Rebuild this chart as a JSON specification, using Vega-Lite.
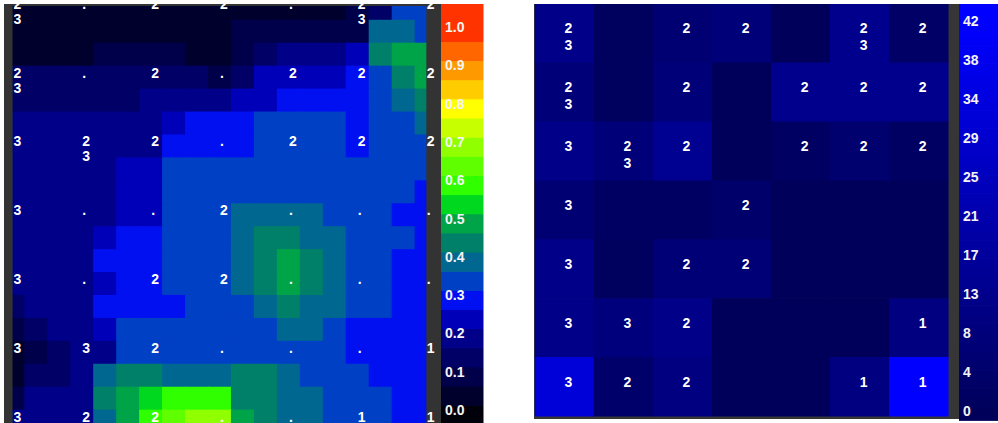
{
  "$schema": "https://vega.github.io/schema/vega-lite/v6.json",
  "background": "white",
  "padding": {"left": 4, "top": 4, "right": 0, "bottom": 0},
  "spacing": 0,
  "config": {"view": {"stroke": null}, "text": {"font": "Liberation Sans"}},
  "resolve": {"scale": {"color": "independent"}},
  "datasets": {
    "one": [{}],
    "cells": [
      {"c":0,"r":0,"t":"2\n3","n":12},{"c":1,"r":0,"t":".","n":1},{"c":2,"r":0,"t":"2","n":6},{"c":3,"r":0,"t":"2","n":8},{"c":4,"r":0,"t":".","n":0},{"c":5,"r":0,"t":"2\n3","n":13},{"c":6,"r":0,"t":"2","n":3},
      {"c":0,"r":1,"t":"2\n3","n":8},{"c":1,"r":1,"t":".","n":1},{"c":2,"r":1,"t":"2","n":8},{"c":3,"r":1,"t":".","n":0},{"c":4,"r":1,"t":"2","n":13},{"c":5,"r":1,"t":"2","n":13},{"c":6,"r":1,"t":"2","n":13},
      {"c":0,"r":2,"t":"3","n":12},{"c":1,"r":2,"t":"2\n3","n":8},{"c":2,"r":2,"t":"2","n":14},{"c":3,"r":2,"t":".","n":0},{"c":4,"r":2,"t":"2","n":2},{"c":5,"r":2,"t":"2","n":5},{"c":6,"r":2,"t":"2","n":2},
      {"c":0,"r":3,"t":"3","n":6},{"c":1,"r":3,"t":".","n":2},{"c":2,"r":3,"t":".","n":2},{"c":3,"r":3,"t":"2","n":4},{"c":4,"r":3,"t":".","n":0},{"c":5,"r":3,"t":".","n":0},{"c":6,"r":3,"t":".","n":0},
      {"c":0,"r":4,"t":"3","n":12},{"c":1,"r":4,"t":".","n":1},{"c":2,"r":4,"t":"2","n":7},{"c":3,"r":4,"t":"2","n":7},{"c":4,"r":4,"t":".","n":0},{"c":5,"r":4,"t":".","n":0},{"c":6,"r":4,"t":".","n":0},
      {"c":0,"r":5,"t":"3","n":12},{"c":1,"r":5,"t":"3","n":9},{"c":2,"r":5,"t":"2","n":12},{"c":3,"r":5,"t":".","n":0},{"c":4,"r":5,"t":".","n":0},{"c":5,"r":5,"t":".","n":0},{"c":6,"r":5,"t":"1","n":10},
      {"c":0,"r":6,"t":"3","n":32},{"c":1,"r":6,"t":"2","n":4},{"c":2,"r":6,"t":"2","n":10},{"c":3,"r":6,"t":".","n":0},{"c":4,"r":6,"t":".","n":0},{"c":5,"r":6,"t":"1","n":10},{"c":6,"r":6,"t":"1","n":42}
    ],
    "surface": [
      {"x":0,"y":0,"v":0.05},{"x":0.333,"y":0,"v":0.05},{"x":0.667,"y":0,"v":0.05},{"x":1,"y":0,"v":0.05},{"x":1.333,"y":0,"v":0.05},{"x":1.667,"y":0,"v":0.05},{"x":2,"y":0,"v":0.05},{"x":2.333,"y":0,"v":0.05},{"x":2.667,"y":0,"v":0.05},{"x":3,"y":0,"v":0.05},{"x":3.333,"y":0,"v":0.05},{"x":3.667,"y":0,"v":0.05},{"x":4,"y":0,"v":0.05},{"x":4.333,"y":0,"v":0.05},{"x":4.667,"y":0,"v":0.05},{"x":5,"y":0,"v":0.1},{"x":5.333,"y":0,"v":0.15},{"x":5.667,"y":0,"v":0.35},{"x":6,"y":0,"v":0.35},
      {"x":0,"y":0.333,"v":0.05},{"x":0.333,"y":0.333,"v":0.05},{"x":0.667,"y":0.333,"v":0.05},{"x":1,"y":0.333,"v":0.05},{"x":1.333,"y":0.333,"v":0.05},{"x":1.667,"y":0.333,"v":0.05},{"x":2,"y":0.333,"v":0.05},{"x":2.333,"y":0.333,"v":0.05},{"x":2.667,"y":0.333,"v":0.05},{"x":3,"y":0.333,"v":0.05},{"x":3.333,"y":0.333,"v":0.1},{"x":3.667,"y":0.333,"v":0.1},{"x":4,"y":0.333,"v":0.1},{"x":4.333,"y":0.333,"v":0.1},{"x":4.667,"y":0.333,"v":0.1},{"x":5,"y":0.333,"v":0.1},{"x":5.333,"y":0.333,"v":0.4},{"x":5.667,"y":0.333,"v":0.4},{"x":6,"y":0.333,"v":0.35},
      {"x":0,"y":0.667,"v":0.05},{"x":0.333,"y":0.667,"v":0.05},{"x":0.667,"y":0.667,"v":0.05},{"x":1,"y":0.667,"v":0.05},{"x":1.333,"y":0.667,"v":0.1},{"x":1.667,"y":0.667,"v":0.1},{"x":2,"y":0.667,"v":0.1},{"x":2.333,"y":0.667,"v":0.1},{"x":2.667,"y":0.667,"v":0.05},{"x":3,"y":0.667,"v":0.05},{"x":3.333,"y":0.667,"v":0.1},{"x":3.667,"y":0.667,"v":0.15},{"x":4,"y":0.667,"v":0.2},{"x":4.333,"y":0.667,"v":0.2},{"x":4.667,"y":0.667,"v":0.2},{"x":5,"y":0.667,"v":0.25},{"x":5.333,"y":0.667,"v":0.45},{"x":5.667,"y":0.667,"v":0.5},{"x":6,"y":0.667,"v":0.5},
      {"x":0,"y":1,"v":0.15},{"x":0.333,"y":1,"v":0.15},{"x":0.667,"y":1,"v":0.15},{"x":1,"y":1,"v":0.15},{"x":1.333,"y":1,"v":0.15},{"x":1.667,"y":1,"v":0.15},{"x":2,"y":1,"v":0.15},{"x":2.333,"y":1,"v":0.15},{"x":2.667,"y":1,"v":0.15},{"x":3,"y":1,"v":0.1},{"x":3.333,"y":1,"v":0.15},{"x":3.667,"y":1,"v":0.25},{"x":4,"y":1,"v":0.25},{"x":4.333,"y":1,"v":0.25},{"x":4.667,"y":1,"v":0.25},{"x":5,"y":1,"v":0.3},{"x":5.333,"y":1,"v":0.35},{"x":5.667,"y":1,"v":0.45},{"x":6,"y":1,"v":0.5},
      {"x":0,"y":1.333,"v":0.15},{"x":0.333,"y":1.333,"v":0.15},{"x":0.667,"y":1.333,"v":0.15},{"x":1,"y":1.333,"v":0.15},{"x":1.333,"y":1.333,"v":0.15},{"x":1.667,"y":1.333,"v":0.15},{"x":2,"y":1.333,"v":0.2},{"x":2.333,"y":1.333,"v":0.2},{"x":2.667,"y":1.333,"v":0.2},{"x":3,"y":1.333,"v":0.2},{"x":3.333,"y":1.333,"v":0.25},{"x":3.667,"y":1.333,"v":0.25},{"x":4,"y":1.333,"v":0.3},{"x":4.333,"y":1.333,"v":0.3},{"x":4.667,"y":1.333,"v":0.3},{"x":5,"y":1.333,"v":0.3},{"x":5.333,"y":1.333,"v":0.35},{"x":5.667,"y":1.333,"v":0.4},{"x":6,"y":1.333,"v":0.45},
      {"x":0,"y":1.667,"v":0.2},{"x":0.333,"y":1.667,"v":0.2},{"x":0.667,"y":1.667,"v":0.2},{"x":1,"y":1.667,"v":0.2},{"x":1.333,"y":1.667,"v":0.2},{"x":1.667,"y":1.667,"v":0.2},{"x":2,"y":1.667,"v":0.2},{"x":2.333,"y":1.667,"v":0.25},{"x":2.667,"y":1.667,"v":0.3},{"x":3,"y":1.667,"v":0.3},{"x":3.333,"y":1.667,"v":0.3},{"x":3.667,"y":1.667,"v":0.35},{"x":4,"y":1.667,"v":0.35},{"x":4.333,"y":1.667,"v":0.35},{"x":4.667,"y":1.667,"v":0.35},{"x":5,"y":1.667,"v":0.3},{"x":5.333,"y":1.667,"v":0.35},{"x":5.667,"y":1.667,"v":0.35},{"x":6,"y":1.667,"v":0.4},
      {"x":0,"y":2,"v":0.2},{"x":0.333,"y":2,"v":0.2},{"x":0.667,"y":2,"v":0.2},{"x":1,"y":2,"v":0.2},{"x":1.333,"y":2,"v":0.2},{"x":1.667,"y":2,"v":0.2},{"x":2,"y":2,"v":0.2},{"x":2.333,"y":2,"v":0.3},{"x":2.667,"y":2,"v":0.3},{"x":3,"y":2,"v":0.3},{"x":3.333,"y":2,"v":0.3},{"x":3.667,"y":2,"v":0.35},{"x":4,"y":2,"v":0.35},{"x":4.333,"y":2,"v":0.35},{"x":4.667,"y":2,"v":0.35},{"x":5,"y":2,"v":0.3},{"x":5.333,"y":2,"v":0.35},{"x":5.667,"y":2,"v":0.35},{"x":6,"y":2,"v":0.35},
      {"x":0,"y":2.333,"v":0.2},{"x":0.333,"y":2.333,"v":0.2},{"x":0.667,"y":2.333,"v":0.2},{"x":1,"y":2.333,"v":0.2},{"x":1.333,"y":2.333,"v":0.2},{"x":1.667,"y":2.333,"v":0.25},{"x":2,"y":2.333,"v":0.25},{"x":2.333,"y":2.333,"v":0.35},{"x":2.667,"y":2.333,"v":0.35},{"x":3,"y":2.333,"v":0.35},{"x":3.333,"y":2.333,"v":0.35},{"x":3.667,"y":2.333,"v":0.35},{"x":4,"y":2.333,"v":0.35},{"x":4.333,"y":2.333,"v":0.35},{"x":4.667,"y":2.333,"v":0.35},{"x":5,"y":2.333,"v":0.35},{"x":5.333,"y":2.333,"v":0.35},{"x":5.667,"y":2.333,"v":0.35},{"x":6,"y":2.333,"v":0.35},
      {"x":0,"y":2.667,"v":0.2},{"x":0.333,"y":2.667,"v":0.2},{"x":0.667,"y":2.667,"v":0.2},{"x":1,"y":2.667,"v":0.2},{"x":1.333,"y":2.667,"v":0.2},{"x":1.667,"y":2.667,"v":0.25},{"x":2,"y":2.667,"v":0.25},{"x":2.333,"y":2.667,"v":0.35},{"x":2.667,"y":2.667,"v":0.35},{"x":3,"y":2.667,"v":0.35},{"x":3.333,"y":2.667,"v":0.35},{"x":3.667,"y":2.667,"v":0.35},{"x":4,"y":2.667,"v":0.35},{"x":4.333,"y":2.667,"v":0.35},{"x":4.667,"y":2.667,"v":0.35},{"x":5,"y":2.667,"v":0.35},{"x":5.333,"y":2.667,"v":0.35},{"x":5.667,"y":2.667,"v":0.35},{"x":6,"y":2.667,"v":0.3},
      {"x":0,"y":3,"v":0.2},{"x":0.333,"y":3,"v":0.2},{"x":0.667,"y":3,"v":0.2},{"x":1,"y":3,"v":0.2},{"x":1.333,"y":3,"v":0.2},{"x":1.667,"y":3,"v":0.25},{"x":2,"y":3,"v":0.25},{"x":2.333,"y":3,"v":0.35},{"x":2.667,"y":3,"v":0.35},{"x":3,"y":3,"v":0.35},{"x":3.333,"y":3,"v":0.4},{"x":3.667,"y":3,"v":0.4},{"x":4,"y":3,"v":0.4},{"x":4.333,"y":3,"v":0.4},{"x":4.667,"y":3,"v":0.35},{"x":5,"y":3,"v":0.35},{"x":5.333,"y":3,"v":0.35},{"x":5.667,"y":3,"v":0.3},{"x":6,"y":3,"v":0.3},
      {"x":0,"y":3.333,"v":0.2},{"x":0.333,"y":3.333,"v":0.2},{"x":0.667,"y":3.333,"v":0.2},{"x":1,"y":3.333,"v":0.2},{"x":1.333,"y":3.333,"v":0.25},{"x":1.667,"y":3.333,"v":0.3},{"x":2,"y":3.333,"v":0.3},{"x":2.333,"y":3.333,"v":0.35},{"x":2.667,"y":3.333,"v":0.35},{"x":3,"y":3.333,"v":0.35},{"x":3.333,"y":3.333,"v":0.4},{"x":3.667,"y":3.333,"v":0.45},{"x":4,"y":3.333,"v":0.45},{"x":4.333,"y":3.333,"v":0.4},{"x":4.667,"y":3.333,"v":0.4},{"x":5,"y":3.333,"v":0.35},{"x":5.333,"y":3.333,"v":0.35},{"x":5.667,"y":3.333,"v":0.35},{"x":6,"y":3.333,"v":0.3},
      {"x":0,"y":3.667,"v":0.2},{"x":0.333,"y":3.667,"v":0.2},{"x":0.667,"y":3.667,"v":0.2},{"x":1,"y":3.667,"v":0.2},{"x":1.333,"y":3.667,"v":0.3},{"x":1.667,"y":3.667,"v":0.3},{"x":2,"y":3.667,"v":0.3},{"x":2.333,"y":3.667,"v":0.35},{"x":2.667,"y":3.667,"v":0.35},{"x":3,"y":3.667,"v":0.35},{"x":3.333,"y":3.667,"v":0.4},{"x":3.667,"y":3.667,"v":0.45},{"x":4,"y":3.667,"v":0.5},{"x":4.333,"y":3.667,"v":0.45},{"x":4.667,"y":3.667,"v":0.4},{"x":5,"y":3.667,"v":0.35},{"x":5.333,"y":3.667,"v":0.35},{"x":5.667,"y":3.667,"v":0.3},{"x":6,"y":3.667,"v":0.3},
      {"x":0,"y":4,"v":0.2},{"x":0.333,"y":4,"v":0.2},{"x":0.667,"y":4,"v":0.2},{"x":1,"y":4,"v":0.2},{"x":1.333,"y":4,"v":0.25},{"x":1.667,"y":4,"v":0.3},{"x":2,"y":4,"v":0.3},{"x":2.333,"y":4,"v":0.35},{"x":2.667,"y":4,"v":0.35},{"x":3,"y":4,"v":0.35},{"x":3.333,"y":4,"v":0.4},{"x":3.667,"y":4,"v":0.45},{"x":4,"y":4,"v":0.5},{"x":4.333,"y":4,"v":0.45},{"x":4.667,"y":4,"v":0.4},{"x":5,"y":4,"v":0.35},{"x":5.333,"y":4,"v":0.35},{"x":5.667,"y":4,"v":0.3},{"x":6,"y":4,"v":0.3},
      {"x":0,"y":4.333,"v":0.15},{"x":0.333,"y":4.333,"v":0.2},{"x":0.667,"y":4.333,"v":0.2},{"x":1,"y":4.333,"v":0.2},{"x":1.333,"y":4.333,"v":0.3},{"x":1.667,"y":4.333,"v":0.3},{"x":2,"y":4.333,"v":0.3},{"x":2.333,"y":4.333,"v":0.3},{"x":2.667,"y":4.333,"v":0.35},{"x":3,"y":4.333,"v":0.35},{"x":3.333,"y":4.333,"v":0.35},{"x":3.667,"y":4.333,"v":0.4},{"x":4,"y":4.333,"v":0.45},{"x":4.333,"y":4.333,"v":0.4},{"x":4.667,"y":4.333,"v":0.4},{"x":5,"y":4.333,"v":0.35},{"x":5.333,"y":4.333,"v":0.35},{"x":5.667,"y":4.333,"v":0.3},{"x":6,"y":4.333,"v":0.3},
      {"x":0,"y":4.667,"v":0.1},{"x":0.333,"y":4.667,"v":0.15},{"x":0.667,"y":4.667,"v":0.2},{"x":1,"y":4.667,"v":0.2},{"x":1.333,"y":4.667,"v":0.25},{"x":1.667,"y":4.667,"v":0.35},{"x":2,"y":4.667,"v":0.35},{"x":2.333,"y":4.667,"v":0.35},{"x":2.667,"y":4.667,"v":0.35},{"x":3,"y":4.667,"v":0.35},{"x":3.333,"y":4.667,"v":0.35},{"x":3.667,"y":4.667,"v":0.35},{"x":4,"y":4.667,"v":0.4},{"x":4.333,"y":4.667,"v":0.4},{"x":4.667,"y":4.667,"v":0.35},{"x":5,"y":4.667,"v":0.3},{"x":5.333,"y":4.667,"v":0.3},{"x":5.667,"y":4.667,"v":0.3},{"x":6,"y":4.667,"v":0.3},
      {"x":0,"y":5,"v":0.05},{"x":0.333,"y":5,"v":0.1},{"x":0.667,"y":5,"v":0.15},{"x":1,"y":5,"v":0.2},{"x":1.333,"y":5,"v":0.2},{"x":1.667,"y":5,"v":0.35},{"x":2,"y":5,"v":0.35},{"x":2.333,"y":5,"v":0.35},{"x":2.667,"y":5,"v":0.35},{"x":3,"y":5,"v":0.35},{"x":3.333,"y":5,"v":0.35},{"x":3.667,"y":5,"v":0.35},{"x":4,"y":5,"v":0.35},{"x":4.333,"y":5,"v":0.35},{"x":4.667,"y":5,"v":0.35},{"x":5,"y":5,"v":0.3},{"x":5.333,"y":5,"v":0.3},{"x":5.667,"y":5,"v":0.3},{"x":6,"y":5,"v":0.3},
      {"x":0,"y":5.333,"v":0.05},{"x":0.333,"y":5.333,"v":0.15},{"x":0.667,"y":5.333,"v":0.15},{"x":1,"y":5.333,"v":0.2},{"x":1.333,"y":5.333,"v":0.4},{"x":1.667,"y":5.333,"v":0.45},{"x":2,"y":5.333,"v":0.45},{"x":2.333,"y":5.333,"v":0.4},{"x":2.667,"y":5.333,"v":0.4},{"x":3,"y":5.333,"v":0.4},{"x":3.333,"y":5.333,"v":0.45},{"x":3.667,"y":5.333,"v":0.45},{"x":4,"y":5.333,"v":0.4},{"x":4.333,"y":5.333,"v":0.35},{"x":4.667,"y":5.333,"v":0.35},{"x":5,"y":5.333,"v":0.35},{"x":5.333,"y":5.333,"v":0.3},{"x":5.667,"y":5.333,"v":0.3},{"x":6,"y":5.333,"v":0.3},
      {"x":0,"y":5.667,"v":0.1},{"x":0.333,"y":5.667,"v":0.2},{"x":0.667,"y":5.667,"v":0.2},{"x":1,"y":5.667,"v":0.2},{"x":1.333,"y":5.667,"v":0.45},{"x":1.667,"y":5.667,"v":0.5},{"x":2,"y":5.667,"v":0.55},{"x":2.333,"y":5.667,"v":0.6},{"x":2.667,"y":5.667,"v":0.6},{"x":3,"y":5.667,"v":0.6},{"x":3.333,"y":5.667,"v":0.45},{"x":3.667,"y":5.667,"v":0.45},{"x":4,"y":5.667,"v":0.4},{"x":4.333,"y":5.667,"v":0.4},{"x":4.667,"y":5.667,"v":0.35},{"x":5,"y":5.667,"v":0.35},{"x":5.333,"y":5.667,"v":0.35},{"x":5.667,"y":5.667,"v":0.3},{"x":6,"y":5.667,"v":0.3},
      {"x":0,"y":6,"v":0.2},{"x":0.333,"y":6,"v":0.2},{"x":0.667,"y":6,"v":0.2},{"x":1,"y":6,"v":0.2},{"x":1.333,"y":6,"v":0.4},{"x":1.667,"y":6,"v":0.5},{"x":2,"y":6,"v":0.6},{"x":2.333,"y":6,"v":0.65},{"x":2.667,"y":6,"v":0.7},{"x":3,"y":6,"v":0.7},{"x":3.333,"y":6,"v":0.5},{"x":3.667,"y":6,"v":0.45},{"x":4,"y":6,"v":0.4},{"x":4.333,"y":6,"v":0.4},{"x":4.667,"y":6,"v":0.35},{"x":5,"y":6,"v":0.35},{"x":5.333,"y":6,"v":0.35},{"x":5.667,"y":6,"v":0.3},{"x":6,"y":6,"v":0.3}
    ],
    "bandsLeft": [
      {"lo":-0.0313,"hi":0.015,"v":0},{"lo":0.015,"hi":0.065,"v":0.05},{"lo":0.065,"hi":0.115,"v":0.1},{"lo":0.115,"hi":0.165,"v":0.15},{"lo":0.165,"hi":0.215,"v":0.2},{"lo":0.215,"hi":0.265,"v":0.25},{"lo":0.265,"hi":0.315,"v":0.3},{"lo":0.315,"hi":0.365,"v":0.35},{"lo":0.365,"hi":0.415,"v":0.4},{"lo":0.415,"hi":0.465,"v":0.45},{"lo":0.465,"hi":0.515,"v":0.5},{"lo":0.515,"hi":0.565,"v":0.55},{"lo":0.565,"hi":0.615,"v":0.6},{"lo":0.615,"hi":0.665,"v":0.65},{"lo":0.665,"hi":0.715,"v":0.7},{"lo":0.715,"hi":0.765,"v":0.75},{"lo":0.765,"hi":0.815,"v":0.8},{"lo":0.815,"hi":0.865,"v":0.85},{"lo":0.865,"hi":0.915,"v":0.9},{"lo":0.915,"hi":0.965,"v":0.95},{"lo":0.965,"hi":1.0627,"v":1.0}
    ],
    "ticksLeft": [
      {"p":0,"t":"0.0"},{"p":0.1,"t":"0.1"},{"p":0.2,"t":"0.2"},{"p":0.3,"t":"0.3"},{"p":0.4,"t":"0.4"},{"p":0.5,"t":"0.5"},{"p":0.6,"t":"0.6"},{"p":0.7,"t":"0.7"},{"p":0.8,"t":"0.8"},{"p":0.9,"t":"0.9"},{"p":1.0,"t":"1.0"}
    ],
    "bandsRight": [
      {"lo":-0.9,"hi":0.5,"n":0},{"lo":0.5,"hi":1.5,"n":1},{"lo":1.5,"hi":2.5,"n":2},{"lo":2.5,"hi":3.5,"n":3},{"lo":3.5,"hi":4.5,"n":4},{"lo":4.5,"hi":5.5,"n":5},{"lo":5.5,"hi":6.5,"n":6},{"lo":6.5,"hi":7.5,"n":7},{"lo":7.5,"hi":8.5,"n":8},{"lo":8.5,"hi":9.5,"n":9},{"lo":9.5,"hi":10.5,"n":10},{"lo":10.5,"hi":11.5,"n":11},{"lo":11.5,"hi":12.5,"n":12},{"lo":12.5,"hi":13.5,"n":13},{"lo":13.5,"hi":14.5,"n":14},{"lo":14.5,"hi":15.5,"n":15},{"lo":15.5,"hi":16.5,"n":16},{"lo":16.5,"hi":17.5,"n":17},{"lo":17.5,"hi":18.5,"n":18},{"lo":18.5,"hi":19.5,"n":19},{"lo":19.5,"hi":20.5,"n":20},{"lo":20.5,"hi":21.5,"n":21},{"lo":21.5,"hi":22.5,"n":22},{"lo":22.5,"hi":23.5,"n":23},{"lo":23.5,"hi":24.5,"n":24},{"lo":24.5,"hi":25.5,"n":25},{"lo":25.5,"hi":26.5,"n":26},{"lo":26.5,"hi":27.5,"n":27},{"lo":27.5,"hi":28.5,"n":28},{"lo":28.5,"hi":29.5,"n":29},{"lo":29.5,"hi":30.5,"n":30},{"lo":30.5,"hi":31.5,"n":31},{"lo":31.5,"hi":32.5,"n":32},{"lo":32.5,"hi":33.5,"n":33},{"lo":33.5,"hi":34.5,"n":34},{"lo":34.5,"hi":35.5,"n":35},{"lo":35.5,"hi":36.5,"n":36},{"lo":36.5,"hi":37.5,"n":37},{"lo":37.5,"hi":38.5,"n":38},{"lo":38.5,"hi":39.5,"n":39},{"lo":39.5,"hi":40.5,"n":40},{"lo":40.5,"hi":41.5,"n":41},{"lo":41.5,"hi":42.5,"n":42},{"lo":42.5,"hi":43.94,"n":43}
    ],
    "ticksRight": [
      {"p":0,"t":"0"},{"p":4.2,"t":"4"},{"p":8.4,"t":"8"},{"p":12.6,"t":"13"},{"p":16.8,"t":"17"},{"p":21,"t":"21"},{"p":25.2,"t":"25"},{"p":29.4,"t":"29"},{"p":33.6,"t":"34"},{"p":37.8,"t":"38"},{"p":42,"t":"42"}
    ]
  },
  "hconcat": [
    {
      "width": 437,
      "height": 419,
      "layer": [
        {
          "data": {"name": "one"},
          "mark": {"type": "rect", "color": "#333333"},
          "encoding": {
            "x": {"datum": -0.1365, "axis": null, "scale": {"domain": [-0.1365, 6.208], "nice": false, "zero": false}},
            "x2": {"datum": 6.208},
            "y": {"datum": -0.0712, "axis": null, "scale": {"domain": [-0.0712, 6.019], "nice": false, "zero": false, "reverse": true}},
            "y2": {"datum": 6.019}
          }
        },
        {
          "data": {"name": "surface"},
          "mark": {"type": "square", "size": 580, "opacity": 1, "filled": true, "strokeWidth": 0, "clip": true},
          "encoding": {
            "x": {"field": "x", "type": "quantitative", "axis": null},
            "y": {"field": "y", "type": "quantitative", "axis": null},
            "color": {
              "field": "v", "type": "quantitative", "legend": null,
              "scale": {
                "type": "threshold",
                "domain": [0.025, 0.075, 0.125, 0.175, 0.225, 0.275, 0.325, 0.375, 0.425, 0.475, 0.525, 0.575, 0.625, 0.675, 0.725, 0.775, 0.825, 0.875, 0.925, 0.975],
                "range": ["#00000a", "#00002c", "#00004a", "#000066", "#000088", "#0000b8", "#0010f0", "#0040c4", "#006890", "#008068", "#00a448", "#00d820", "#30ff00", "#60ff00", "#90ff00", "#c8ff00", "#ffff00", "#ffcc00", "#ff9900", "#ff6600", "#ff3300"]
              }
            }
          }
        },
        {
          "data": {"name": "one"},
          "mark": {"type": "rect", "color": "#333333"},
          "encoding": {"x": {"datum": -0.1365, "axis": null}, "x2": {"datum": -0.012}, "y": {"datum": -0.0712, "axis": null}, "y2": {"datum": 6.019}}
        },
        {
          "data": {"name": "one"},
          "mark": {"type": "rect", "color": "#333333"},
          "encoding": {"x": {"datum": 5.995, "axis": null}, "x2": {"datum": 6.208}, "y": {"datum": -0.0712, "axis": null}, "y2": {"datum": 6.019}}
        },
        {
          "data": {"name": "one"},
          "mark": {"type": "rect", "color": "#333333"},
          "encoding": {"x": {"datum": -0.1365, "axis": null}, "x2": {"datum": 6.208}, "y": {"datum": -0.0712, "axis": null}, "y2": {"datum": -0.043}}
        },
        {
          "data": {"name": "cells"},
          "mark": {"type": "text", "align": "left", "baseline": "alphabetic", "fontWeight": "bold", "fontSize": 14, "lineHeight": 15, "lineBreak": "\n", "color": "#ffffff", "clip": true},
          "encoding": {
            "x": {"field": "c", "type": "quantitative", "axis": null},
            "y": {"field": "r", "type": "quantitative", "axis": null},
            "text": {"field": "t"}
          }
        }
      ]
    },
    {
      "width": 43,
      "height": 419,
      "layer": [
        {
          "data": {"name": "bandsLeft"},
          "mark": {"type": "rect", "strokeWidth": 1, "clip": true},
          "encoding": {
            "x": {"datum": 0, "axis": null, "scale": {"domain": [0, 1], "nice": false, "zero": false}},
            "x2": {"datum": 0.977},
            "y": {"field": "lo", "type": "quantitative", "axis": null, "scale": {"domain": [-0.0313, 1.0627], "nice": false, "zero": false}},
            "y2": {"field": "hi"},
            "color": {
              "field": "v", "type": "quantitative", "legend": null,
              "scale": {
                "type": "threshold",
                "domain": [0.025, 0.075, 0.125, 0.175, 0.225, 0.275, 0.325, 0.375, 0.425, 0.475, 0.525, 0.575, 0.625, 0.675, 0.725, 0.775, 0.825, 0.875, 0.925, 0.975],
                "range": ["#00000a", "#00002c", "#00004a", "#000066", "#000088", "#0000b8", "#0010f0", "#0040c4", "#006890", "#008068", "#00a448", "#00d820", "#30ff00", "#60ff00", "#90ff00", "#c8ff00", "#ffff00", "#ffcc00", "#ff9900", "#ff6600", "#ff3300"]
              }
            },
            "stroke": {
              "field": "v", "type": "quantitative", "legend": null,
              "scale": {
                "type": "threshold",
                "domain": [0.025, 0.075, 0.125, 0.175, 0.225, 0.275, 0.325, 0.375, 0.425, 0.475, 0.525, 0.575, 0.625, 0.675, 0.725, 0.775, 0.825, 0.875, 0.925, 0.975],
                "range": ["#00000a", "#00002c", "#00004a", "#000066", "#000088", "#0000b8", "#0010f0", "#0040c4", "#006890", "#008068", "#00a448", "#00d820", "#30ff00", "#60ff00", "#90ff00", "#c8ff00", "#ffff00", "#ffcc00", "#ff9900", "#ff6600", "#ff3300"]
              }
            }
          }
        },
        {
          "data": {"name": "ticksLeft"},
          "mark": {"type": "text", "align": "left", "baseline": "middle", "fontWeight": "bold", "fontSize": 14, "color": "#f4f4f4"},
          "encoding": {
            "x": {"datum": 0.093, "axis": null},
            "y": {"field": "p", "type": "quantitative", "axis": null},
            "text": {"field": "t"}
          }
        }
      ]
    },
    {
      "width": 475,
      "height": 419,
      "layer": [
        {
          "data": {"name": "one"},
          "mark": {"type": "rect", "color": "#363636"},
          "encoding": {
            "x": {"datum": -0.5165, "axis": null, "scale": {"domain": [-1.3633, 6.6808], "nice": false, "zero": false}},
            "x2": {"datum": 6.6808},
            "y": {"datum": -0.5, "axis": null, "scale": {"domain": [-0.5, 6.6137], "nice": false, "zero": false, "reverse": true}},
            "y2": {"datum": 6.5458}
          }
        },
        {
          "data": {"name": "cells"},
          "mark": {"type": "square", "size": 3540, "opacity": 1, "filled": true, "strokeWidth": 0, "clip": true},
          "encoding": {
            "x": {"field": "c", "type": "quantitative", "axis": null},
            "y": {"field": "r", "type": "quantitative", "axis": null},
            "color": {"field": "n", "type": "quantitative", "legend": null, "scale": {"domain": [0, 42], "range": ["#00005a", "#0000ff"], "interpolate": "rgb", "clamp": true}}
          }
        },
        {
          "data": {"name": "cells"},
          "transform": [{"filter": "datum.t !== '.'"}],
          "mark": {"type": "text", "align": "left", "baseline": "alphabetic", "fontWeight": "bold", "fontSize": 14, "lineHeight": 17, "lineBreak": "\n", "color": "#ffffff"},
          "encoding": {
            "x": {"field": "c", "type": "quantitative", "axis": null},
            "y": {"field": "r", "type": "quantitative", "axis": null},
            "text": {"field": "t"}
          }
        }
      ]
    },
    {
      "width": 39,
      "height": 419,
      "layer": [
        {
          "data": {"name": "bandsRight"},
          "mark": {"type": "rect", "strokeWidth": 1, "clip": true},
          "encoding": {
            "x": {"datum": 0, "axis": null, "scale": {"domain": [0, 1], "nice": false, "zero": false}},
            "x2": {"datum": 1},
            "y": {"field": "lo", "type": "quantitative", "axis": null, "scale": {"domain": [-1.185, 43.94], "nice": false, "zero": false}},
            "y2": {"field": "hi"},
            "color": {"field": "n", "type": "quantitative", "legend": null, "scale": {"domain": [0, 42], "range": ["#00005a", "#0000ff"], "interpolate": "rgb", "clamp": true}},
            "stroke": {"field": "n", "type": "quantitative", "legend": null, "scale": {"domain": [0, 42], "range": ["#00005a", "#0000ff"], "interpolate": "rgb", "clamp": true}}
          }
        },
        {
          "data": {"name": "ticksRight"},
          "mark": {"type": "text", "align": "left", "baseline": "middle", "fontWeight": "bold", "fontSize": 14, "color": "#f4f4f4"},
          "encoding": {
            "x": {"datum": 0.103, "axis": null},
            "y": {"field": "p", "type": "quantitative", "axis": null},
            "text": {"field": "t"}
          }
        }
      ]
    }
  ]
}
